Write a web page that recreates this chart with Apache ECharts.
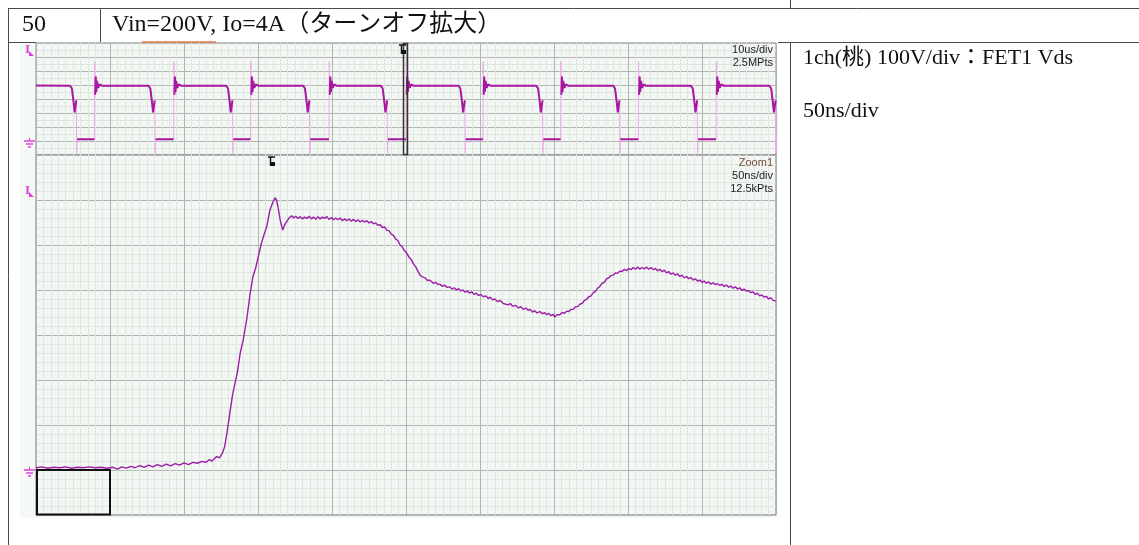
<!DOCTYPE html>
<html><head><meta charset="utf-8">
<script src="https://cdn.jsdelivr.net/npm/echarts@6/dist/echarts.min.js"></script>
<style>
html,body{margin:0;padding:0;background:#fff;}
#bg{position:absolute;left:20px;top:42px;width:758px;height:476px;background:#f5f9f5;}
#chart{position:absolute;left:0;top:0;width:1139px;height:545px;}
</style></head><body>
<div id="bg"></div>
<div id="chart"></div>
<script>
// ---- Upper (overview) trace, 10us/div, value in divisions from ground ----
const upperFallEdges = [4.6, 15.2, 25.7, 36.1, 46.6, 57.1, 67.6, 78.0, 88.5, 99.1];
const upperRiseEdges = [7.9, 18.6, 29.0, 39.6, 50.0, 60.4, 70.9, 81.4, 91.9];
// measured shape of one turn-off (offset us, div); index 6 is the fast edge
const fallShape = [[0,3.95],[0.25,3.75],[0.45,2.9],[0.62,2.05],[0.72,2.0],[0.85,2.9],[0.9,-0.88],[0.97,0.12]];
// measured shape of one turn-on (offset us, div); index 1 is the fast spike
const riseShape = [[0,0.12],[0.03,5.66],[0.1,3.3],[0.17,4.6],[0.25,3.5],[0.35,4.3],[0.5,3.8],[0.7,4.05],[1.0,3.95]];
const upperStartLevel = 3.96;

// ---- Lower (zoom) trace, 50ns/div, 100V/div: [ns, div] ----
const zoomTrace = [
[0,0.05],[4,0.07],[8,0.04],[12,0.06],[16,0.05],[20,0.07],[24,0.04],[28,0.06],[32,0.05],[36,0.07],
[40,0.05],[44,0.06],[48,0.04],[52,0.06],[55,0.02],[58,0.07],[61,0.04],[64,0.08],[67,0.05],[70,0.1],
[73,0.06],[76,0.11],[79,0.07],[82,0.12],[85,0.08],[88,0.13],[91,0.09],[94,0.14],[97,0.11],[100,0.16],
[103,0.12],[106,0.17],[109,0.15],[112,0.19],[115,0.17],[117,0.23],[119,0.2],[122,0.3],[124,0.27],[126,0.38],
[127.5,0.52],[129,0.82],[131,1.27],[133,1.71],[136,2.16],[138,2.6],[140,2.89],[142.4,3.35],[144.6,3.9],[146.6,4.3],
[148.5,4.5],[150.2,4.74],[152,5.0],[153.6,5.18],[155.9,5.41],[158.1,5.78],[160,5.95],[161.5,6.05],[162.5,6.0],[163.5,5.85],
[165,5.55],[166.7,5.33],[168,5.45],[169.4,5.52],[171,5.6],[172.8,5.65],[174,5.6],[175.5,5.64],[177,5.59],[178.5,5.63],
[180,5.58],[181.5,5.62],[183,5.59],[184.5,5.64],[186,5.58],[187.5,5.62],[189,5.57],[190.5,5.63],[192,5.58],[193.5,5.62],
[195,5.59],[196.5,5.63],[198,5.57],[199.5,5.61],[201,5.56],[202.5,5.6],[204,5.56],[205.5,5.6],[207,5.54],[208.5,5.58],
[210,5.54],[211.5,5.58],[213,5.53],[214.5,5.57],[216,5.52],[217.5,5.56],[219,5.51],[220.5,5.55],[222,5.51],[223.5,5.54],
[225,5.49],[226.5,5.52],[228,5.47],[229.5,5.49],[231,5.44],[232.5,5.45],[234,5.39],[235.5,5.4],[237,5.33],[238.5,5.32],
[240,5.24],[241.4,5.22],[243,5.13],[244.5,5.1],[246,5.0],[247.5,4.96],[249,4.87],[250.5,4.82],[252,4.73],[253.5,4.68],
[255,4.58],[256.5,4.52],[258,4.42],[259.5,4.33],[261,4.29],[263,4.27],[264.5,4.21],[266,4.22],[268.4,4.15],[270,4.17],
[271.5,4.12],[273,4.13],[274.5,4.08],[276,4.11],[277.5,4.06],[279.7,4.07],[281,4.02],[282.5,4.05],[284,4.0],[285.5,4.03],
[287,3.98],[288.5,4.0],[290,3.95],[291.5,3.98],[293,3.93],[294.5,3.96],[296,3.9],[297.5,3.93],[299,3.88],[300.5,3.9],
[302.2,3.85],[304,3.87],[305.5,3.81],[307,3.84],[308.5,3.78],[310,3.8],[312,3.74],[313.5,3.77],[315.7,3.7],[317,3.73],
[319,3.67],[320.5,3.7],[322,3.64],[324,3.66],[326,3.6],[327.5,3.63],[329.3,3.57],[331,3.6],[332.5,3.55],[334,3.57],
[335.5,3.51],[337,3.54],[338.5,3.49],[340.5,3.52],[342,3.47],[343.5,3.5],[345,3.45],[346.5,3.48],[348,3.43],[349.5,3.46],
[350.5,3.4],[352,3.45],[354,3.45],[355.5,3.5],[357,3.48],[358.6,3.53],[360,3.52],[361.5,3.57],[363,3.57],[364.5,3.63],
[366,3.63],[367.6,3.69],[369,3.7],[370.5,3.77],[372,3.79],[373.5,3.85],[375,3.87],[376.6,3.94],[378,3.97],[379.5,4.04],
[381,4.08],[382.5,4.15],[384,4.17],[385.6,4.25],[387,4.27],[388.5,4.32],[390,4.33],[391.5,4.38],[393,4.37],[394.6,4.42],
[396,4.41],[397.5,4.46],[399,4.43],[400.5,4.48],[402,4.45],[403.5,4.5],[405,4.46],[406.5,4.51],[408,4.46],[409.5,4.5],
[411,4.47],[412.5,4.51],[414,4.46],[415.5,4.5],[417.1,4.45],[418.5,4.48],[420,4.43],[421.5,4.46],[423,4.41],[424.5,4.44],
[426,4.38],[427.5,4.41],[429,4.35],[430.5,4.38],[432,4.33],[433.5,4.36],[435,4.3],[436.5,4.33],[438,4.27],[439.7,4.3],
[441,4.25],[442.5,4.28],[444,4.22],[445.5,4.25],[447,4.2],[448.5,4.22],[450,4.17],[451.5,4.2],[453,4.15],[454.5,4.18],
[456,4.13],[457.5,4.16],[459,4.12],[460.5,4.14],[462,4.1],[463.5,4.13],[465,4.08],[466.5,4.11],[468,4.06],[469.5,4.09],
[471,4.04],[472.5,4.07],[474,4.02],[475.5,4.05],[477,3.99],[478.5,4.02],[480,3.97],[481.5,3.99],[483,3.94],[484.5,3.96],
[486,3.9],[487.5,3.93],[489,3.87],[490.5,3.89],[492,3.84],[493.5,3.86],[495,3.8],[496.5,3.83],[498,3.77],[499,3.79],[500,3.76]
];

const upperLight = [[0, upperStartLevel]];
const upperDark = [[0, upperStartLevel]];
for (let i = 0; i < upperFallEdges.length; i++) {
  const tf = upperFallEdges[i];
  fallShape.forEach((p, k) => {
    upperLight.push([tf + p[0], p[1]]);
    upperDark.push([tf + p[0], k === 6 ? '-' : p[1]]);
  });
  if (i < upperRiseEdges.length) {
    const tr = upperRiseEdges[i];
    riseShape.forEach((p, k) => {
      upperLight.push([tr + p[0], p[1]]);
      upperDark.push([tr + p[0], k === 1 ? '-' : p[1]]);
    });
  }
}

const serif = '"Liberation Serif", "Times New Roman", "Noto Sans CJK JP", serif';
const TBL = '#4a4a4a';
const MAG = '#e23ce0';
function ln(x1,y1,x2,y2,c,w){return {type:'line',z:100,shape:{x1,y1,x2,y2},style:{stroke:c||TBL,lineWidth:w||1}};}
function tx(t,x,y,font,fill,align){return {type:'text',z:101,x,y,style:{text:t,font,fill:fill||'#111',align:align||'left',verticalAlign:'middle'}};}
function iMarker(x,y){return [
  tx('I',x,y,'bold 13px "Liberation Serif"',MAG,'left'),
  {type:'polygon',z:101,shape:{points:[[x+4,y+6],[x+9,y+6],[x+4,y+1]]},style:{fill:MAG}}
];}
function gnd(x,y){return [ln(x,y,x+11,y,MAG,1.5),ln(x+2,y+3,x+9,y+3,MAG,1.5),ln(x+4,y+6,x+7,y+6,MAG,1.5),ln(x+5.5,y-3,x+5.5,y,MAG,1)];}
function trig(x,y){return [
  ln(x,y,x+7,y,'#111',1.5),ln(x+2.5,y,x+2.5,y+9,'#111',1.5),
  {type:'rect',z:101,shape:{x:x+3,y:y+5,width:4,height:4},style:{fill:'#111'}}
];}

const axisCommon = {axisLabel:{show:false},axisTick:{show:false},axisLine:{show:false}};
const major = {show:true,lineStyle:{color:'#b1b4b1',width:1}};
const minor = {show:true,lineStyle:{color:'#e0e6e0',width:1}};

const option = {
  backgroundColor:'transparent',
  animation:false,
  grid:[
    {left:36,top:43,width:740,height:112,show:true,backgroundColor:'#f3f7f3',borderColor:'#8a8a8a',borderWidth:1},
    {left:36,top:155,width:740,height:360,show:true,backgroundColor:'#f3f7f3',borderColor:'#777777',borderWidth:1}
  ],
  xAxis:[
    Object.assign({gridIndex:0,type:'value',min:0,max:100,interval:10,splitLine:major,minorTick:{show:false,splitNumber:10},minorSplitLine:minor},axisCommon),
    Object.assign({gridIndex:1,type:'value',min:0,max:500,interval:50,splitLine:major,minorTick:{show:false,splitNumber:10},minorSplitLine:minor},axisCommon)
  ],
  yAxis:[
    Object.assign({gridIndex:0,type:'value',min:-1,max:7,interval:1,splitLine:major,minorTick:{show:false,splitNumber:2},minorSplitLine:minor},axisCommon),
    Object.assign({gridIndex:1,type:'value',min:-1,max:7,interval:1,splitLine:major,minorTick:{show:false,splitNumber:5},minorSplitLine:minor},axisCommon)
  ],
  series:[
    {type:'line',xAxisIndex:0,yAxisIndex:0,data:upperLight,showSymbol:false,lineStyle:{color:'#f2a6ee',width:1},z:3},
    {type:'line',xAxisIndex:0,yAxisIndex:0,data:upperDark,showSymbol:false,connectNulls:false,lineStyle:{color:'#a8179f',width:2},z:4},
    {type:'line',xAxisIndex:1,yAxisIndex:1,data:zoomTrace,showSymbol:false,lineStyle:{color:'#9c1ca8',width:1.4},z:4}
  ],
  graphic:[].concat(
    [
      ln(8,8.5,1139,8.5), ln(8.5,8,8.5,545), ln(100.5,8,100.5,42), ln(790.5,0,790.5,8),
      ln(8,42.5,36,42.5), ln(778,42.5,1139,42.5), ln(790.5,42,790.5,545),
      ln(142,42,216,42,'#e0794a',1.5),
      tx('50',22,24.5,'24px '+serif),
      tx('Vin=200V, Io=4A（ターンオフ拡大）',112,24.5,'24px '+serif),
      tx('1ch(桃) 100V/div：FET1 Vds',803,58,'22px '+serif),
      tx('50ns/div',803,111,'22px '+serif),
      tx('10us/div',773,50,'11px "Liberation Sans"','#222','right'),
      tx('2.5MPts',773,63,'11px "Liberation Sans"','#222','right'),
      tx('Zoom1',773,163,'11px "Liberation Sans"','#7a4a3c','right'),
      tx('50ns/div',773,176,'11px "Liberation Sans"','#222','right'),
      tx('12.5kPts',773,189,'11px "Liberation Sans"','#222','right'),
      {type:'rect',z:100,shape:{x:403.5,y:43.5,width:4,height:111},style:{fill:'none',stroke:'#333',lineWidth:1.5}},
      {type:'rect',z:100,shape:{x:37,y:470,width:73,height:44.5},style:{fill:'none',stroke:'#111',lineWidth:2}}
    ],
    iMarker(25,50), gnd(24,141), iMarker(25,191), gnd(24,470),
    trig(399,45), trig(268,157)
  )
};
const chart = echarts.init(document.getElementById('chart'),null,{renderer:'canvas'});
chart.setOption(option);
</script></body></html>
